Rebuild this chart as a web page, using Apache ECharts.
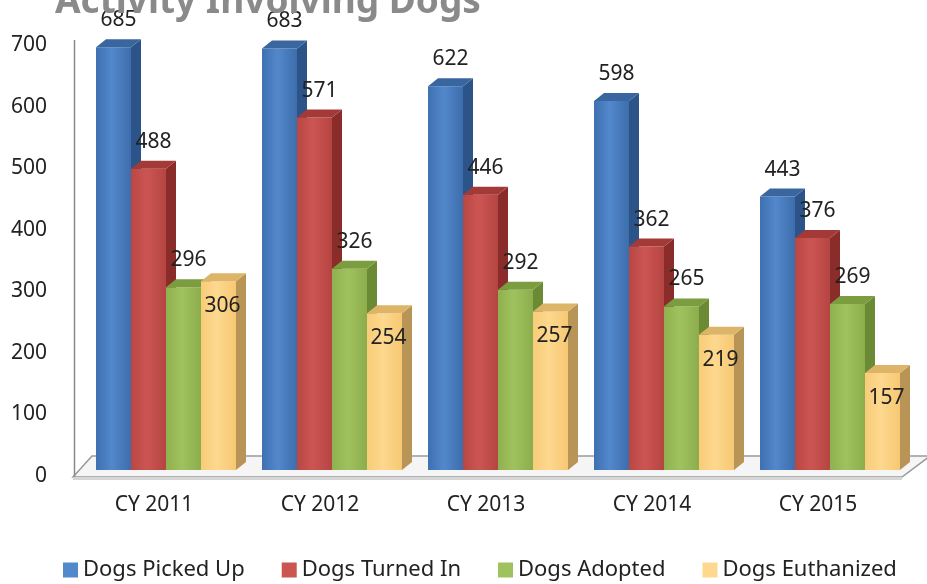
<!DOCTYPE html>
<html>
<head>
<meta charset="utf-8">
<script src="https://cdn.jsdelivr.net/npm/echarts@6/dist/echarts.min.js"></script>
<style>
  html, body { margin: 0; padding: 0; background: #fff; }
  #chart { width: 927px; height: 584px; }
</style>
</head>
<body>
<div id="chart"></div>
<script>
var categories = ["CY 2011", "CY 2012", "CY 2013", "CY 2014", "CY 2015"];
var seriesNames = ["Dogs Picked Up", "Dogs Turned In", "Dogs Adopted", "Dogs Euthanized"];
var pickedUp = [685, 683, 622, 598, 443];
var turnedIn = [488, 571, 446, 362, 376];
var adopted = [296, 326, 292, 265, 269];
var euthanized = [306, 254, 257, 219, 157];
var yTicks = [0, 100, 200, 300, 400, 500, 600, 700];

// front / side / top colours per series
var faces = [
  { front: ["#3f70b0", "#5288cc", "#3d6dac"], side: "#2d5489", top: "#3a66a0" },
  { front: ["#b84744", "#cc5552", "#b54542"], side: "#8a2c2a", top: "#a33a37" },
  { front: ["#8fb04e", "#a0c25e", "#8dad4c"], side: "#6a8a33", top: "#7c9c40" },
  { front: ["#f8cc78", "#fdd88e", "#f6c873"], side: "#b89456", top: "#ddb468" }
];

var chart = echarts.init(document.getElementById("chart"));

function bar3d(k) {
  return function (params, api) {
    var cat = api.value(0), val = api.value(1);
    var top = api.coord([cat, val]);
    var base = api.coord([cat, 0]);
    var band = api.size([1, 0])[0];
    var bw = band * 35 / 166;
    var x0 = top[0] - band * 58 / 166 + k * bw;
    var dx = 10, dy = -8;
    var f = faces[k];
    var inside = k === 3;
    return {
      type: "group",
      children: [
        {
          type: "rect",
          shape: { x: x0, y: top[1], width: bw, height: base[1] - top[1] },
          style: {
            fill: new echarts.graphic.LinearGradient(0, 0, 1, 0, [
              { offset: 0, color: f.front[0] },
              { offset: 0.45, color: f.front[1] },
              { offset: 1, color: f.front[2] }
            ])
          }
        },
        {
          type: "polygon",
          shape: { points: [[x0 + bw, top[1]], [x0 + bw + dx, top[1] + dy], [x0 + bw + dx, base[1] + dy], [x0 + bw, base[1]]] },
          style: { fill: f.side }
        },
        {
          type: "polygon",
          shape: { points: [[x0, top[1]], [x0 + dx, top[1] + dy], [x0 + bw + dx, top[1] + dy], [x0 + bw, top[1]]] },
          style: { fill: f.top }
        },
        {
          type: "text",
          z2: 100,
          style: {
            x: x0 + bw / 2 + (inside ? 4 : 5),
            y: top[1] + (inside ? 25 : -27),
            text: String(val),
            textAlign: "center",
            textVerticalAlign: "middle",
            fontFamily: "Noto Sans",
            fontSize: 21,
            fill: "#222"
          }
        }
      ]
    };
  };
}

var allValues = [pickedUp, turnedIn, adopted, euthanized];
var series = allValues.map(function (vals, k) {
  return {
    name: seriesNames[k],
    type: "custom",
    xAxisIndex: 0,
    yAxisIndex: 0,
    renderItem: bar3d(k),
    itemStyle: { color: faces[k].front[1] },
    encode: { x: 0, y: 1 },
    data: vals.map(function (v, i) { return [i, v]; })
  };
});

chart.setOption({
  animation: false,
  title: {
    text: "Activity Involving Dogs",
    left: 50,
    top: -21,
    textStyle: { fontFamily: "Noto Sans", fontWeight: "bold", fontSize: 37, color: "#8a8a8a" }
  },
  legend: {
    data: seriesNames,
    left: 58,
    top: 554,
    width: 900,
    padding: 5,
    icon: "rect",
    itemWidth: 15,
    itemHeight: 15,
    itemGap: 37,
    textStyle: { fontFamily: "Noto Sans", fontSize: 22, color: "#222" }
  },
  grid: [
    { left: 71, right: 26, top: 38, bottom: 114 },
    { left: 74, right: 26, top: 45, bottom: 108 }
  ],
  xAxis: [
    {
      gridIndex: 0,
      type: "category",
      data: categories,
      axisLine: { show: false },
      axisTick: { show: false },
      axisLabel: { margin: 25, fontFamily: "Noto Sans", fontSize: 21, color: "#222" }
    },
    { gridIndex: 1, type: "category", data: categories, show: false }
  ],
  yAxis: [
    { gridIndex: 0, type: "value", min: 0, max: 700, show: false },
    {
      gridIndex: 1,
      type: "value",
      min: 0,
      max: 700,
      interval: 100,
      axisLine: { show: false },
      axisTick: { show: false },
      splitLine: { show: false },
      axisLabel: { margin: 27, fontFamily: "Noto Sans", fontSize: 21, color: "#222" }
    }
  ],
  graphic: [
    {
      type: "polygon",
      z: -1,
      shape: { points: [[73, 477], [902, 477], [930, 456], [92, 456]] },
      style: { fill: "#f5f5f5", stroke: "#9a9a9a", lineWidth: 1.5 }
    },
    {
      type: "polygon",
      z: -1,
      shape: { points: [[73, 477], [902, 477], [902, 480], [73, 480]] },
      style: { fill: "#d6d6d6" }
    },
    {
      type: "line",
      z: -1,
      shape: { x1: 74.5, y1: 40, x2: 74.5, y2: 477 },
      style: { stroke: "#8a8a8a", lineWidth: 1.5 }
    }
  ],
  series: series
});
</script>
</body>
</html>
